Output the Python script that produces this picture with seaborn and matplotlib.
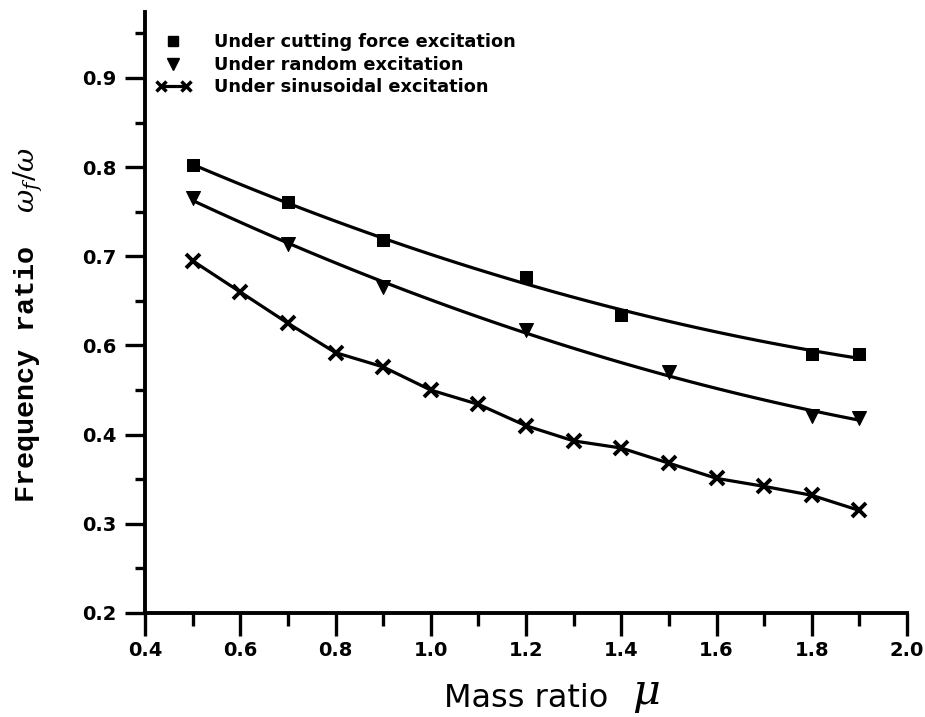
import numpy as np
import pandas as pd
import matplotlib
matplotlib.use("Agg")
import matplotlib.pyplot as plt
from matplotlib.lines import Line2D
from matplotlib.legend_handler import HandlerLine2D
from matplotlib.ticker import MultipleLocator, FixedLocator
from matplotlib.font_manager import FontProperties
import seaborn as sns

# ---- data ----
cut_x = [0.5, 0.7, 0.9, 1.2, 1.4, 1.8, 1.9]
cut_y = [0.802, 0.761, 0.718, 0.677, 0.634, 0.590, 0.590]

rnd_x = [0.5, 0.7, 0.9, 1.2, 1.5, 1.8, 1.9]
rnd_y = [0.765, 0.714, 0.666, 0.617, 0.570, 0.521, 0.519]

sin_x = [0.5, 0.6, 0.7, 0.8, 0.9, 1.0, 1.1, 1.2, 1.3, 1.4, 1.5, 1.6, 1.7, 1.8, 1.9]
sin_y = [0.695, 0.660, 0.625, 0.592, 0.576, 0.550, 0.534, 0.510, 0.493,
         0.485, 0.468, 0.451, 0.442, 0.432, 0.415]

x_ticks = [0.4, 0.6, 0.8, 1.0, 1.2, 1.4, 1.6, 1.8, 2.0]
x_tick_labels = ["0.4", "0.6", "0.8", "1.0", "1.2", "1.4", "1.6", "1.8", "2.0"]
y_ticks = [0.3, 0.4, 0.5, 0.6, 0.7, 0.8, 0.9]
y_tick_labels = ["0.2", "0.3", "0.4", "0.6", "0.7", "0.8", "0.9"]

legend_labels = ["Under cutting force excitation",
                 "Under random excitation",
                 "Under sinusoidal excitation"]

cut_df = pd.DataFrame({"mu": cut_x, "ratio": cut_y})
rnd_df = pd.DataFrame({"mu": rnd_x, "ratio": rnd_y})
sin_df = pd.DataFrame({"mu": sin_x, "ratio": sin_y})

sns.set_theme(style="ticks")
plt.rcParams["font.family"] = ["DejaVu Sans"]
plt.rcParams["mathtext.fontset"] = "dejavuserif"

W, H = 925, 717
fig = plt.figure(figsize=(W / 100, H / 100), dpi=100)
left_px, right_px, top_px, bot_px = 145, 907, 12, 613
ax = fig.add_axes([left_px / W, 1 - bot_px / H,
                   (right_px - left_px) / W, (bot_px - top_px) / H])

lw = 2.3
# fitted smooth curves
sns.regplot(data=cut_df, x="mu", y="ratio", order=2, ci=None, scatter=False,
            line_kws={"color": "black", "lw": lw}, ax=ax)
sns.regplot(data=rnd_df, x="mu", y="ratio", order=2, ci=None, scatter=False,
            line_kws={"color": "black", "lw": lw}, ax=ax)
# markers
sns.scatterplot(data=cut_df, x="mu", y="ratio", marker="s", s=85, color="black",
                edgecolor="black", ax=ax, zorder=5)
sns.scatterplot(data=rnd_df, x="mu", y="ratio", marker="v", s=100, color="black",
                edgecolor="black", ax=ax, zorder=5)
sns.lineplot(data=sin_df, x="mu", y="ratio", color="black", lw=lw, marker="x",
             markersize=10, markeredgewidth=2.8, markeredgecolor="black", ax=ax)

ax.set_xlim(0.4, 2.0)
ax.set_ylim(0.3, 0.3 + (bot_px - top_px) / 891.7)
ax.xaxis.set_major_locator(FixedLocator(x_ticks))
ax.set_xticklabels(x_tick_labels)
ax.xaxis.set_minor_locator(MultipleLocator(0.1))
ax.yaxis.set_major_locator(FixedLocator(y_ticks))
ax.set_yticklabels(y_tick_labels)
ax.yaxis.set_minor_locator(MultipleLocator(0.05))

for s in ["top", "right"]:
    ax.spines[s].set_visible(False)
for s in ["left", "bottom"]:
    ax.spines[s].set_linewidth(2.8)
    ax.spines[s].set_color("black")

ax.tick_params(axis="x", which="major", direction="out", length=16.5, width=2.4,
               colors="black", labelsize=14, pad=4)
ax.tick_params(axis="x", which="minor", direction="out", length=9, width=2.4,
               colors="black")
ax.tick_params(axis="y", which="major", direction="out", length=14.5, width=2.4,
               colors="black", labelsize=14, pad=6)
ax.tick_params(axis="y", which="minor", direction="out", length=7.5, width=2.4,
               colors="black")
for lab in ax.get_xticklabels() + ax.get_yticklabels():
    lab.set_fontweight("bold")

ax.set_xlabel("Mass ratio", fontsize=23, labelpad=16, color="black")
fig.text(646 / W, 1 - 694 / H, r"$\mu$", fontsize=31, ha="center", va="center",
         color="black")

ylab_font = FontProperties(family=["Liberation Mono", "DejaVu Sans Mono"],
                           weight="bold", size=20.5)
ax.set_ylabel(r"Frequency ratio  $\omega_f/\omega$", fontproperties=ylab_font,
              color="black", va="center", ha="center")
ax.yaxis.set_label_coords((28 - left_px) / (right_px - left_px),
                          (bot_px - 325) / (bot_px - top_px))

handles = [
    Line2D([], [], color="black", marker="s", linestyle="none", markersize=7),
    Line2D([], [], color="black", marker="v", linestyle="none", markersize=8.5),
    Line2D([], [], color="black", marker="x", linestyle="-", lw=2.3,
           markersize=7, markeredgewidth=2.5),
]
leg = ax.legend(handles, legend_labels, loc="upper left", frameon=False,
                bbox_to_anchor=(0.0, 0.982), handlelength=2.0, handletextpad=1.3,
                labelspacing=0.25, prop={"weight": "bold", "size": 12.8},
                borderaxespad=0.2,
                handler_map={handles[2]: HandlerLine2D(numpoints=2)})
for t in leg.get_texts():
    t.set_color("black")

fig.savefig("out.png", dpi=100, facecolor="white")
